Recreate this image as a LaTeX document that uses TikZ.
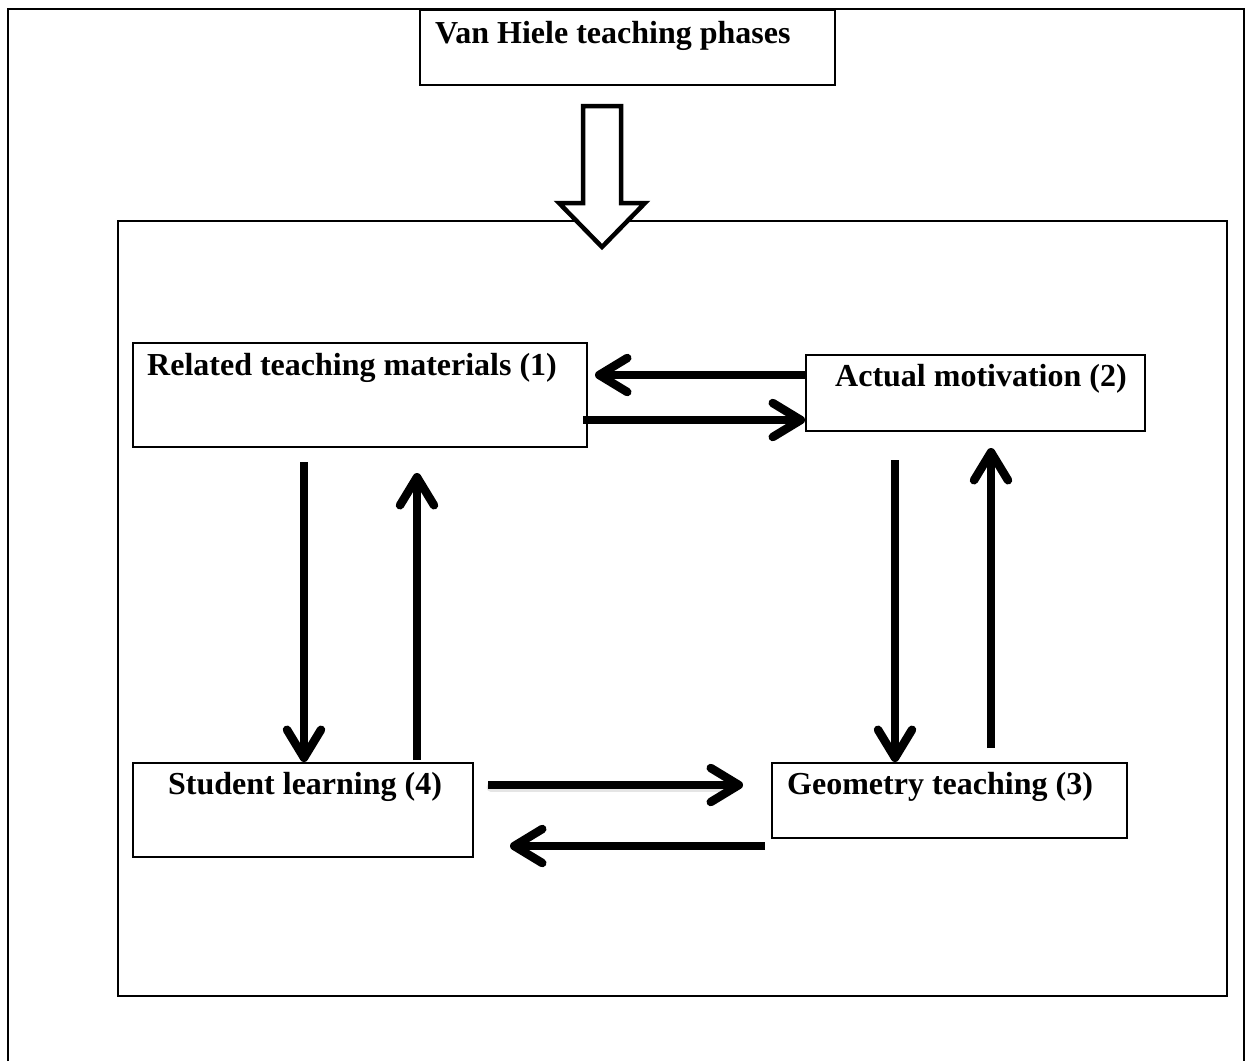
\documentclass[tikz,border=0pt]{standalone}
\usepackage{fontspec}
\setmainfont{Liberation Serif}
\usetikzlibrary{arrows.meta}
\begin{document}
\begin{tikzpicture}[x=1pt,y=-1pt,
  box/.style={draw=black, line width=2pt, inner sep=0pt, anchor=north west, fill=white},
  lbl/.style={anchor=base west, inner sep=0pt, font=\fontsize{32}{38}\selectfont\bfseries},
  arr/.style={draw=black, line width=8.5pt, -{Straight Barb[round, line width=8.5pt, length=28pt, width=34pt]}},
]
\useasboundingbox (0,0) rectangle (1246,1061);
% outer frame (open at the bottom)
\draw[line width=2.2pt] (8,1061) -- (8,9) -- (1244,9) -- (1244,1061);
% inner frame
\node[box, minimum width=1109pt, minimum height=775pt] (frame) at (117,220) {};
% title box
\node[box, minimum width=415pt, minimum height=75pt] (title) at (419,9) {};
\node[lbl] (titletext) at (435,43) {Van Hiele teaching phases};
% hollow arrow from title to frame
\draw[line width=4.5pt, fill=white, line join=miter]
  (583,106) -- (621,106) -- (621,203) -- (645,203) -- (602,247) -- (559,203) -- (583,203) -- cycle;
% phase boxes
\node[box, minimum width=454pt, minimum height=104pt] (b1) at (132,342) {};
\node[lbl] (t1) at (147,375) {Related teaching materials (1)};
\node[box, minimum width=339pt, minimum height=76pt] (b2) at (805,354) {};
\node[lbl] (t2) at (835,386) {Actual motivation (2)};
\node[box, minimum width=355pt, minimum height=75pt] (b3) at (771,762) {};
\node[lbl] (t3) at (787,794) {Geometry teaching (3)};
\node[box, minimum width=340pt, minimum height=94pt] (b4) at (132,762) {};
\node[lbl] (t4) at (168,794) {Student learning (4)};
% named arrow ends
\coordinate (a21s) at (b2.west |- 0,375);
\coordinate (a21e) at (595,375);
\coordinate (a12s) at (583,420);
\coordinate (a12e) at (b2.west |- 0,420);
\coordinate (a14s) at (304,462);
\coordinate (a14e) at (b4.north -| 304,0);
\coordinate (a41s) at (417,760);
\coordinate (a41e) at (417,473);
\coordinate (a23s) at (895,460);
\coordinate (a23e) at (b3.north -| 895,0);
\coordinate (a32s) at (991,748);
\coordinate (a32e) at (991,448);
\coordinate (a43s) at (488,785);
\coordinate (a43e) at (743,785);
\coordinate (a34s) at (765,846);
\coordinate (a34e) at (510,846);
% arrows
\draw[arr] (a21s) -- (a21e);
\draw[arr] (a12s) -- (a12e);
\draw[arr] (a14s) -- (a14e);
\draw[arr] (a41s) -- (a41e);
\draw[arr] (a23s) -- (a23e);
\draw[arr] (a32s) -- (a32e);
\draw[draw=black!10, line width=9pt, line cap=round] ([xshift=3pt,yshift=-2pt]a43s) -- ([xshift=-10pt,yshift=-2pt]a43e);
\draw[arr] (a43s) -- (a43e);
\draw[arr] (a34s) -- (a34e);
\end{tikzpicture}
\end{document}
